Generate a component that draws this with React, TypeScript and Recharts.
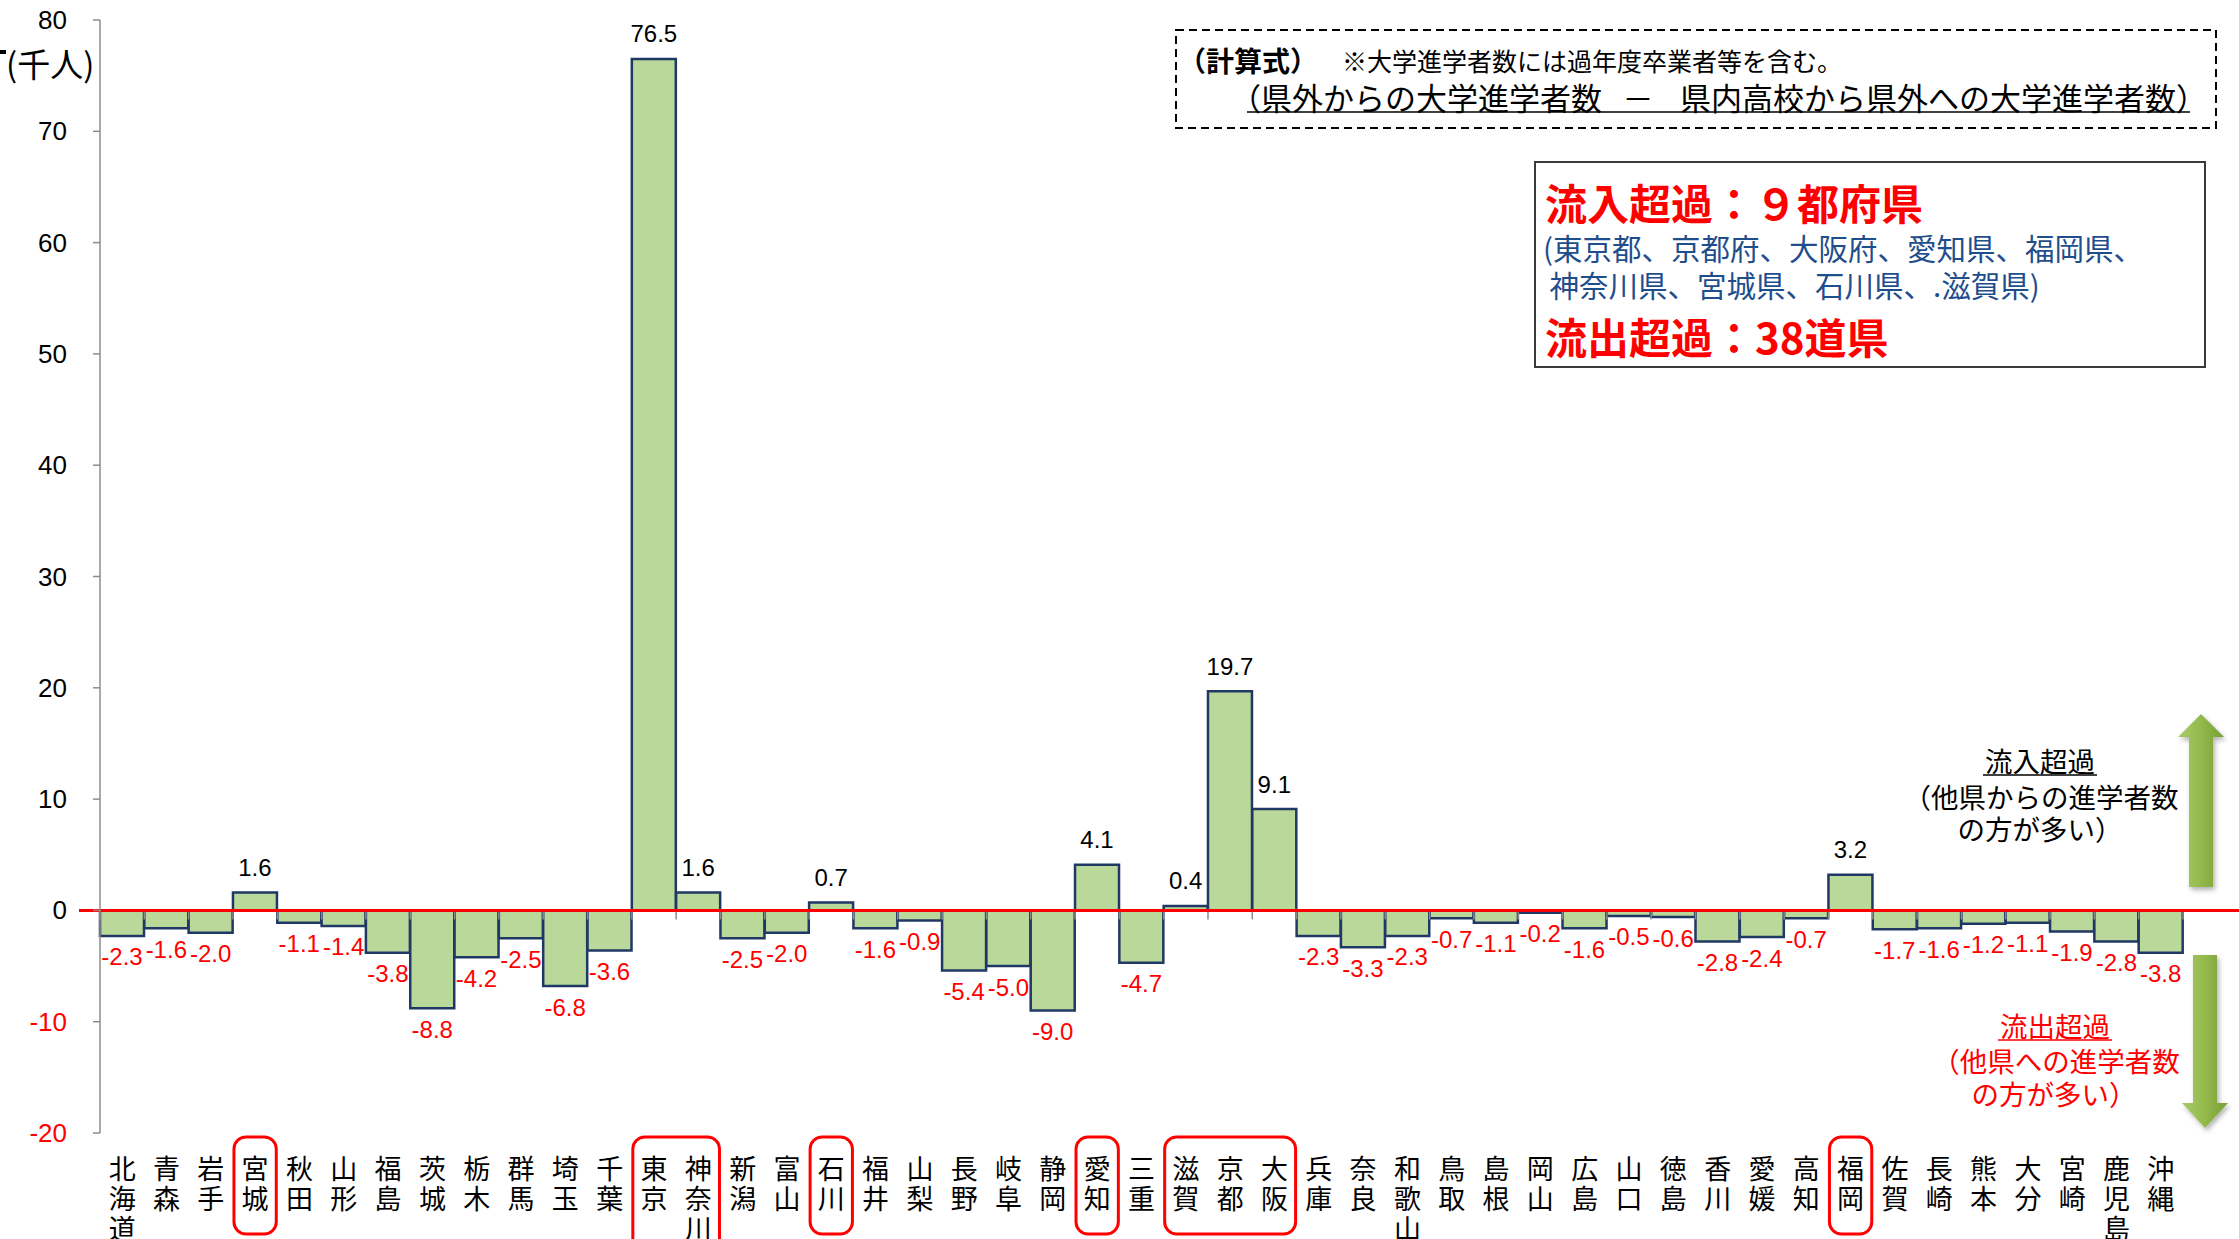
import React from 'react';
import { BarChart, Bar, XAxis, YAxis, ReferenceLine, LabelList } from 'recharts';

const prefectures = [
  '北海道', '青森', '岩手', '宮城', '秋田', '山形', '福島', '茨城', '栃木', '群馬',
  '埼玉', '千葉', '東京', '神奈川', '新潟', '富山', '石川', '福井', '山梨', '長野',
  '岐阜', '静岡', '愛知', '三重', '滋賀', '京都', '大阪', '兵庫', '奈良', '和歌山',
  '鳥取', '島根', '岡山', '広島', '山口', '徳島', '香川', '愛媛', '高知', '福岡',
  '佐賀', '長崎', '熊本', '大分', '宮崎', '鹿児島', '沖縄',
];
const netInflow = [
  -2.3, -1.6, -2.0, 1.6, -1.1, -1.4, -3.8, -8.8, -4.2, -2.5,
  -6.8, -3.6, 76.5, 1.6, -2.5, -2.0, 0.7, -1.6, -0.9, -5.4,
  -5.0, -9.0, 4.1, -4.7, 0.4, 19.7, 9.1, -2.3, -3.3, -2.3,
  -0.7, -1.1, -0.2, -1.6, -0.5, -0.6, -2.8, -2.4, -0.7, 3.2,
  -1.7, -1.6, -1.2, -1.1, -1.9, -2.8, -3.8,
];
const yTicks = [-20, -10, 0, 10, 20, 30, 40, 50, 60, 70, 80];

const data = prefectures.map((name, i) => ({ name, value: netInflow[i] }));

const LATIN = "'Liberation Sans', Arial, sans-serif";
const CJK = "'Noto Sans CJK JP', 'Noto Sans CJK SC', sans-serif";

const ValueLabel = (props: any) => {
  const { x, y, width, height, value } = props;
  const v = Number(value);
  const top = Math.min(y, y + height);
  const bottom = Math.max(y, y + height);
  const cx = x + width / 2;
  const cy = v >= 0 ? top - 25 : bottom + 21;
  return (
    <text x={cx} y={cy} textAnchor="middle" dominantBaseline="central" fontFamily={LATIN} fontSize={24}
      fill={v >= 0 ? '#000000' : '#FF0000'}>
      {v.toFixed(1)}
    </text>
  );
};

const YTick = (props: any) => {
  const { x, y, payload } = props;
  const v = Number(payload.value);
  return (
    <text x={x} y={y} textAnchor="end" dominantBaseline="central" fontFamily={LATIN} fontSize={26}
      fill={v < 0 ? '#FF0000' : '#000000'}>
      {v}
    </text>
  );
};

const XTick = (props: any) => {
  const { x, y, payload, index, width } = props;
  const i = typeof payload?.index === 'number' ? payload.index : index;
  const label = String(payload.value);
  const n = netInflow.length;
  const band = (typeof width === 'number' && width > 0 ? width : 2083) / n;
  let box = null;
  if (netInflow[i] > 0 && !(i > 0 && netInflow[i - 1] > 0)) {
    let j = i;
    let rows = 0;
    while (j < n && netInflow[j] > 0) {
      rows = Math.max(rows, prefectures[j].length);
      j++;
    }
    const runLen = j - i;
    box = (
      <rect x={x - band / 2 + 1} y={y + 4} width={runLen * band - 2} height={37 + rows * 30} rx={12}
        fill="none" stroke="#FF0000" strokeWidth={3} />
    );
  }
  return (
    <g>
      {box}
      {label.split('').map((ch, k) => (
        <text key={k} x={x} y={y + 34 + k * 30} textAnchor="middle" dominantBaseline="central"
          fontSize={27} fontFamily={CJK} fill="#000000">
          {ch}
        </text>
      ))}
    </g>
  );
};

const ZeroLine = (props: any) => {
  const { x1, x2, y1 } = props;
  const n = netInflow.length;
  const left = Math.min(x1, x2);
  const right = Math.max(x1, x2);
  const band = (right - left) / n;
  const ticks = [];
  for (let k = 0; k <= n; k++) {
    const tx = left + k * band;
    ticks.push(<line key={k} x1={tx} x2={tx} y1={y1} y2={y1 + 9} stroke="#8C8C8C" strokeWidth={1.5} />);
  }
  return (
    <g>
      {ticks}
      <line x1={left - 21} x2={2239} y1={y1} y2={y1} stroke="#FF0000" strokeWidth={3} />
    </g>
  );
};

const Overlay = () => (
  <svg width={2239} height={1239} style={{ position: 'absolute', left: 0, top: 0, pointerEvents: 'none' }}>
    <defs>
      <linearGradient id="arrowGrad" x1="0" y1="0" x2="1" y2="0">
        <stop offset="0" stopColor="#A9CB6B" />
        <stop offset="0.5" stopColor="#93B94B" />
        <stop offset="1" stopColor="#789F36" />
      </linearGradient>
      <filter id="arrowShadow" x="-50%" y="-10%" width="200%" height="120%">
        <feDropShadow dx="2" dy="3" stdDeviation="2.5" floodColor="#000000" floodOpacity="0.3" />
      </filter>
    </defs>

    <rect x={0} y={50} width={6} height={4} fill="#000" />
    <text x={6} y={63} dominantBaseline="central" fontFamily={CJK} fontSize={33} fill="#000">(千人)</text>

    {/* formula box */}
    <rect x={1176} y={30} width={1040} height={98} fill="none" stroke="#000" strokeWidth={2} strokeDasharray="8 5" />
    <text x={1178} y={60} dominantBaseline="central" fontFamily={CJK} fontSize={28} fontWeight={700} fill="#000">（計算式）</text>
    <text x={1342} y={60} dominantBaseline="central" fontFamily={CJK} fontSize={25} fill="#000">※大学進学者数には過年度卒業者等を含む。</text>
    <text x={1230} y={96} dominantBaseline="central" fontFamily={CJK} fontSize={31} fill="#000">（県外からの大学進学者数</text>
    <text x={1638} y={96} textAnchor="middle" dominantBaseline="central" fontFamily={CJK} fontSize={31} fill="#000">－</text>
    <text x={2207} y={96} textAnchor="end" dominantBaseline="central" fontFamily={CJK} fontSize={31} fill="#000">県内高校から県外への大学進学者数）</text>
    <line x1={1247} x2={2190} y1={112} y2={112} stroke="#000" strokeWidth={1.5} />

    {/* summary box */}
    <rect x={1535} y={162} width={670} height={205} fill="#fff" stroke="#3A3A3A" strokeWidth={2} />
    <text x={1545} y={201} dominantBaseline="central" fontFamily={CJK} fontSize={42} fontWeight={700} fill="#FF0000">流入超過：９都府県</text>
    <text x={1543} y={247} dominantBaseline="central" fontFamily={CJK} fontSize={29.5} fill="#1F4E8C">(東京都、京都府、大阪府、愛知県、福岡県、</text>
    <text x={1543} y={284} dominantBaseline="central" fontFamily={CJK} fontSize={29.5} fill="#1F4E8C">{'\u00A0神奈川県、宮城県、石川県、.滋賀県)'}</text>
    <text x={1545} y={335} dominantBaseline="central" fontFamily={CJK} fontSize={42} fontWeight={700} fill="#FF0000">流出超過：38道県</text>

    {/* arrows */}
    <polygon points="2189,887 2189,737 2178,737 2201,714 2224,737 2213,737 2213,887"
      fill="url(#arrowGrad)" filter="url(#arrowShadow)" />
    <polygon points="2193,955 2217,955 2217,1103 2228,1103 2205,1128 2182,1103 2193,1103"
      fill="url(#arrowGrad)" filter="url(#arrowShadow)" />

    <text x={2040} y={760} textAnchor="middle" dominantBaseline="central" fontFamily={CJK} fontSize={27.5} fill="#000">流入超過</text>
    <line x1={1983} x2={2097} y1={775} y2={775} stroke="#000" strokeWidth={1.5} />
    <text x={2041} y={796} textAnchor="middle" dominantBaseline="central" fontFamily={CJK} fontSize={27.5} fill="#000">（他県からの進学者数</text>
    <text x={2040} y={828} textAnchor="middle" dominantBaseline="central" fontFamily={CJK} fontSize={27.5} fill="#000">の方が多い）</text>

    <text x={2055} y={1025} textAnchor="middle" dominantBaseline="central" fontFamily={CJK} fontSize={27.5} fill="#FF0000">流出超過</text>
    <line x1={1998} x2={2112} y1={1040} y2={1040} stroke="#FF0000" strokeWidth={1.5} />
    <text x={2056} y={1060} textAnchor="middle" dominantBaseline="central" fontFamily={CJK} fontSize={27.5} fill="#FF0000">（他県への進学者数</text>
    <text x={2054} y={1093} textAnchor="middle" dominantBaseline="central" fontFamily={CJK} fontSize={27.5} fill="#FF0000">の方が多い）</text>
  </svg>
);

export default function App() {
  return (
    <div style={{ position: 'absolute', left: 0, top: 0, width: 2239, height: 1239, background: '#fff' }}>
      <BarChart width={2239} height={1239} data={data} barCategoryGap={0}
        margin={{ top: 20, right: 56, bottom: 0, left: 0 }}>
        <YAxis type="number" domain={[-20, 80]} ticks={yTicks} width={100} interval={0}
          axisLine={{ stroke: '#8C8C8C', strokeWidth: 1.5 }} tickLine={{ stroke: '#8C8C8C', strokeWidth: 1.5 }}
          tickSize={7} tickMargin={26} tick={<YTick />} allowDataOverflow />
        <XAxis dataKey="name" type="category" interval={0} height={106} axisLine={false} tickLine={false}
          tickSize={0} tickMargin={0} tick={<XTick />} />
        <Bar dataKey="value" fill="#BBD89B" stroke="#1F3864" strokeWidth={2.5} isAnimationActive={false}>
          <LabelList dataKey="value" content={<ValueLabel />} />
        </Bar>
        <ReferenceLine y={0} shape={(p: any) => <ZeroLine {...p} />} />
      </BarChart>
      <Overlay />
    </div>
  );
}
